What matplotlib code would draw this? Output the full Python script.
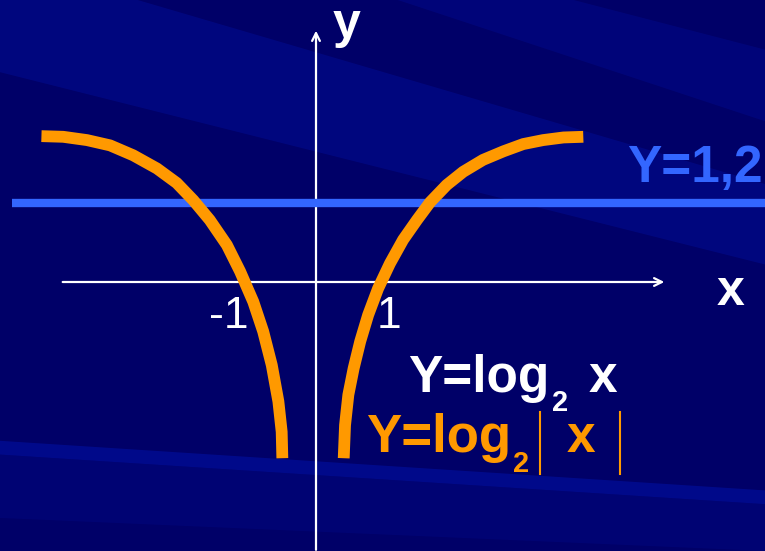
import matplotlib
matplotlib.use('Agg')
from matplotlib import pyplot as plt

plt.rcParams['font.family'] = ['Liberation Sans', 'DejaVu Sans']

right_x = [0.42, 0.44, 0.49, 0.57, 0.67, 0.79, 0.94, 1.12, 1.32, 1.53, 1.73, 1.98,
           2.23, 2.53, 2.84, 3.14, 3.44, 3.75, 4.05]
right_y = [-2.67, -2.17, -1.71, -1.31, -0.90, -0.50, -0.10, 0.28, 0.64, 0.94, 1.21, 1.47,
           1.67, 1.85, 1.98, 2.09, 2.15, 2.19, 2.20]
left_x = [-0.51, -0.52, -0.57, -0.67, -0.80, -0.95, -1.15, -1.35, -1.61, -1.86, -2.11,
          -2.41, -2.77, -3.12, -3.47, -3.83, -4.16]
left_y = [-2.67, -2.27, -1.81, -1.26, -0.75, -0.30, 0.16, 0.56, 0.94, 1.24, 1.50,
          1.72, 1.92, 2.07, 2.15, 2.20, 2.21]
h_level = 1.2
h_span = [-4.60, 6.80]
tick_labels = ['-1', '1']

ORANGE = '#FF9900'
BLUE = '#3366FF'
BG = '#000068'
BAND = '#000B8E'

fig = plt.figure(figsize=(7.65, 5.51), dpi=100, facecolor=BG)
ax = fig.add_axes([0, 0, 1, 1])
ax.set_facecolor(BG)
ax.set_xlim(-316 / 66, 449 / 66)
ax.set_ylim(-269 / 66, 282 / 66)
ax.axis('off')

# Background bands (slide template)
tr = ax.transAxes
ax.fill([0, 0.18, 1, 1, 0], [1, 1, 0.666, 0.52, 0.869], color=BAND, alpha=0.6, transform=tr, zorder=0, lw=0)
ax.fill([0.52, 0.75, 1, 1], [1, 1, 0.91, 0.78], color=BAND, alpha=0.45, transform=tr, zorder=0, lw=0)
ax.fill([0, 1, 1, 0], [0.20, 0.11, 0.085, 0.175], color=BAND, alpha=0.9, transform=tr, zorder=0, lw=0)
ax.fill([0, 1, 1, 0], [0.175, 0.085, 0.0, 0.06], color=BAND, alpha=0.3, transform=tr, zorder=0, lw=0)

# Axes with arrows
ax.annotate('', xy=(5.32, 0), xytext=(-3.88, 0),
            arrowprops=dict(arrowstyle='->', color='white', lw=1.6, mutation_scale=14), zorder=2)
ax.annotate('', xy=(0, 3.85), xytext=(0, -4.1),
            arrowprops=dict(arrowstyle='->', color='white', lw=1.6, mutation_scale=14), zorder=2)

# Horizontal line y = 1.2
ax.plot(h_span, [h_level, h_level], color=BLUE, lw=6, solid_capstyle='butt', zorder=3)

# Curves
ax.plot(left_x, left_y, color=ORANGE, lw=8.5, solid_capstyle='butt', solid_joinstyle='round', zorder=4)
ax.plot(right_x, right_y, color=ORANGE, lw=8.5, solid_capstyle='butt', solid_joinstyle='round', zorder=4)


def px(x, y):
    return ((x - 316) / 66, (282 - y) / 66)


# Tick labels
ax.text(px(248, 0)[0], px(0, 328)[1], tick_labels[0], color='white', fontsize=32,
        ha='right', va='baseline', zorder=5)
ax.text(px(389, 0)[0], px(0, 328)[1], tick_labels[1], color='white', fontsize=32,
        ha='center', va='baseline', zorder=5)

# Axis names
ax.text(*px(333, 38), 'y', color='white', fontsize=36, fontweight='bold', va='baseline', zorder=5)
ax.text(*px(717, 305), 'x', color='white', fontsize=36, fontweight='bold', va='baseline', zorder=5)

# Line label
ax.text(*px(763, 182), 'Y=1,2', color=BLUE, fontsize=37, fontweight='bold', ha='right', va='baseline', zorder=5)

# Y=log2 x (white)
ax.text(*px(408, 392), 'Y=log', color='white', fontsize=37, fontweight='bold', va='baseline', zorder=5)
ax.text(*px(552, 411), '2', color='white', fontsize=21, fontweight='bold', va='baseline', zorder=5)
ax.text(*px(589, 392), 'x', color='white', fontsize=37, fontweight='bold', va='baseline', zorder=5)

# Y=log2|x| (orange)
ax.text(*px(366, 452), 'Y=log', color=ORANGE, fontsize=38, fontweight='bold', va='baseline', zorder=5)
ax.text(*px(513, 472), '2', color=ORANGE, fontsize=21, fontweight='bold', va='baseline', zorder=5)
ax.text(*px(567, 452), 'x', color=ORANGE, fontsize=37, fontweight='bold', va='baseline', zorder=5)
for bx in (540, 620):
    x0, y0 = px(bx, 412)
    x1, y1 = px(bx, 474)
    ax.plot([x0, x1], [y0, y1], color=ORANGE, lw=1.5, zorder=5)

plt.savefig('out.png', dpi=100, facecolor=BG)
